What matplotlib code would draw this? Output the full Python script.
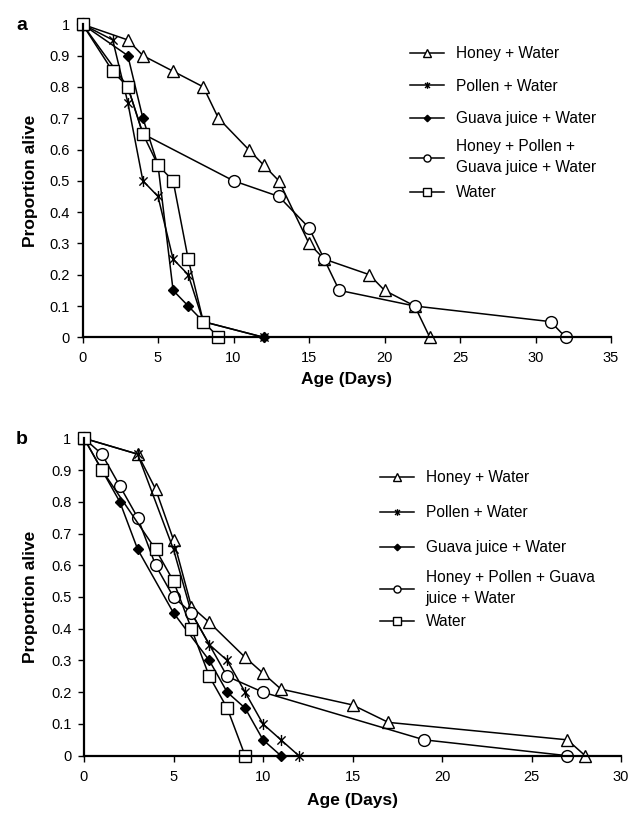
import matplotlib
matplotlib.use("Agg")
import matplotlib.pyplot as plt
from matplotlib.path import Path
from matplotlib.ticker import FuncFormatter

plt.rcParams['font.family'] = ['Liberation Sans', 'DejaVu Sans']

# ---------------- data ----------------
labels_a = ["Honey + Water", "Pollen + Water", "Guava juice + Water",
            "Honey + Pollen +\nGuava juice + Water", "Water"]
labels_b = ["Honey + Water", "Pollen + Water", "Guava juice + Water",
            "Honey + Pollen + Guava\njuice + Water", "Water"]

# Panel a
a_honey_x = [0, 3, 4, 6, 8, 9, 11, 12, 13, 15, 16, 19, 20, 22, 23]
a_honey_y = [1, 0.95, 0.9, 0.85, 0.8, 0.7, 0.6, 0.55, 0.5, 0.3, 0.25, 0.2, 0.15, 0.1, 0]
a_pollen_x = [0, 2, 3, 4, 5, 6, 7, 8, 12]
a_pollen_y = [1, 0.95, 0.75, 0.5, 0.45, 0.25, 0.2, 0.05, 0]
a_guava_x = [0, 3, 4, 5, 6, 7, 8, 12]
a_guava_y = [1, 0.9, 0.7, 0.55, 0.15, 0.1, 0.05, 0]
a_mix_x = [0, 3, 4, 10, 13, 15, 16, 17, 22, 31, 32]
a_mix_y = [1, 0.8, 0.65, 0.5, 0.45, 0.35, 0.25, 0.15, 0.1, 0.05, 0]
a_water_x = [0, 2, 3, 4, 5, 6, 7, 8, 9]
a_water_y = [1, 0.85, 0.8, 0.65, 0.55, 0.5, 0.25, 0.05, 0]

# Panel b
b_honey_x = [0, 3, 4, 5, 6, 7, 9, 10, 11, 15, 17, 27, 28]
b_honey_y = [1, 0.95, 0.84, 0.68, 0.47, 0.42, 0.31, 0.26, 0.21, 0.16, 0.105, 0.05, 0]
b_pollen_x = [0, 3, 5, 6, 7, 8, 9, 10, 11, 12]
b_pollen_y = [1, 0.95, 0.65, 0.45, 0.35, 0.3, 0.2, 0.1, 0.05, 0]
b_guava_x = [0, 1, 2, 3, 5, 7, 8, 9, 10, 11]
b_guava_y = [1, 0.9, 0.8, 0.65, 0.45, 0.3, 0.2, 0.15, 0.05, 0]
b_mix_x = [0, 1, 2, 3, 4, 5, 6, 8, 10, 19, 27]
b_mix_y = [1, 0.95, 0.85, 0.75, 0.6, 0.5, 0.45, 0.25, 0.2, 0.05, 0]
b_water_x = [0, 1, 4, 5, 6, 7, 8, 9]
b_water_y = [1, 0.9, 0.65, 0.55, 0.4, 0.25, 0.15, 0]

yticks = [0, 0.1, 0.2, 0.3, 0.4, 0.5, 0.6, 0.7, 0.8, 0.9, 1]
a_xticks = [0, 5, 10, 15, 20, 25, 30, 35]
b_xticks = [0, 5, 10, 15, 20, 25, 30]

# ---------------- style ----------------
star = Path([(-1, -1), (1, 1), (-1, 1), (1, -1), (0, -1.35), (0, 1.35)],
            [Path.MOVETO, Path.LINETO, Path.MOVETO, Path.LINETO, Path.MOVETO, Path.LINETO])

styles = [
    dict(marker='^', markersize=8.5, markerfacecolor='white'),
    dict(marker=star, markersize=8, markerfacecolor='black'),
    dict(marker='D', markersize=5.5, markerfacecolor='black'),
    dict(marker='o', markersize=8.5, markerfacecolor='white'),
    dict(marker='s', markersize=8.5, markerfacecolor='white'),
]

fig = plt.figure(figsize=(6.3, 8.14), dpi=100)

def fmt(v, pos):
    if abs(v - round(v)) < 1e-9:
        return "%d" % round(v)
    return "%.1f" % v

LEG_KW = dict(loc='upper left', frameon=False, fontsize=11.2, handlelength=2.2,
              handletextpad=0.75, borderpad=0, borderaxespad=0, markerscale=0.6)

def panel(rect, series, labels, xmax, xticks, letter, leg_x, leg1_top, ls1,
          leg2_top, ls2, xlabel_y):
    ax = fig.add_axes(rect)
    lines = []
    for (xs, ys), st, lab in zip(series, styles, labels):
        ln, = ax.plot(xs, ys, color='black', lw=1.1, markeredgecolor='black',
                      markeredgewidth=1.0, clip_on=False, label=lab, **st)
        lines.append(ln)
    ax.set_xlim(0, xmax)
    ax.set_ylim(0, 1)
    ax.set_xticks(xticks)
    ax.set_yticks(yticks)
    ax.yaxis.set_major_formatter(FuncFormatter(fmt))
    for s in ['top', 'right']:
        ax.spines[s].set_visible(False)
    for s in ['left', 'bottom']:
        ax.spines[s].set_linewidth(1.6)
    ax.tick_params(direction='out', length=4, width=1, labelsize=10.5)
    ax.tick_params(axis='x', pad=6)
    ax.tick_params(axis='y', pad=5)
    ax.set_ylabel("Proportion alive", fontsize=12.5, fontweight='bold')
    ax.yaxis.set_label_coords(-0.085, 0.5)
    ax.set_xlabel("Age (Days)", fontsize=12.5, fontweight='bold')
    ax.xaxis.set_label_coords(0.5, xlabel_y)
    ax.xaxis.label.set_va('top')
    leg1 = ax.legend(lines[:3], labels[:3],
                     bbox_to_anchor=(leg_x, 1 - leg1_top / 814),
                     bbox_transform=fig.transFigure, labelspacing=ls1, **LEG_KW)
    ax.add_artist(leg1)
    leg2 = ax.legend(lines[3:], labels[3:],
                     bbox_to_anchor=(leg_x, 1 - leg2_top / 814),
                     bbox_transform=fig.transFigure, labelspacing=ls2, **LEG_KW)
    for t in leg2.get_texts():
        t.set_linespacing(1.5)
    fig.text(22 / 630, rect[1] + rect[3] - 0.002, letter,
             fontsize=14, fontweight='bold', va='center', ha='center')
    return ax

series_a = [(a_honey_x, a_honey_y), (a_pollen_x, a_pollen_y), (a_guava_x, a_guava_y),
            (a_mix_x, a_mix_y), (a_water_x, a_water_y)]
series_b = [(b_honey_x, b_honey_y), (b_pollen_x, b_pollen_y), (b_guava_x, b_guava_y),
            (b_mix_x, b_mix_y), (b_water_x, b_water_y)]

panel([82.5 / 630, 1 - 337.3 / 814, (611 - 82.5) / 630, (337.3 - 24.3) / 814],
      series_a, labels_a, 35, a_xticks, 'a', 410 / 630, 46, 1.13, 139, 0.65, -0.112)
panel([84 / 630, 1 - 755.7 / 814, (621 - 84) / 630, (755.7 - 438.3) / 814],
      series_b, labels_b, 30, b_xticks, 'b', 380 / 630, 470, 1.29, 570, 0.53, -0.118)

fig.savefig("out.png", dpi=100)
